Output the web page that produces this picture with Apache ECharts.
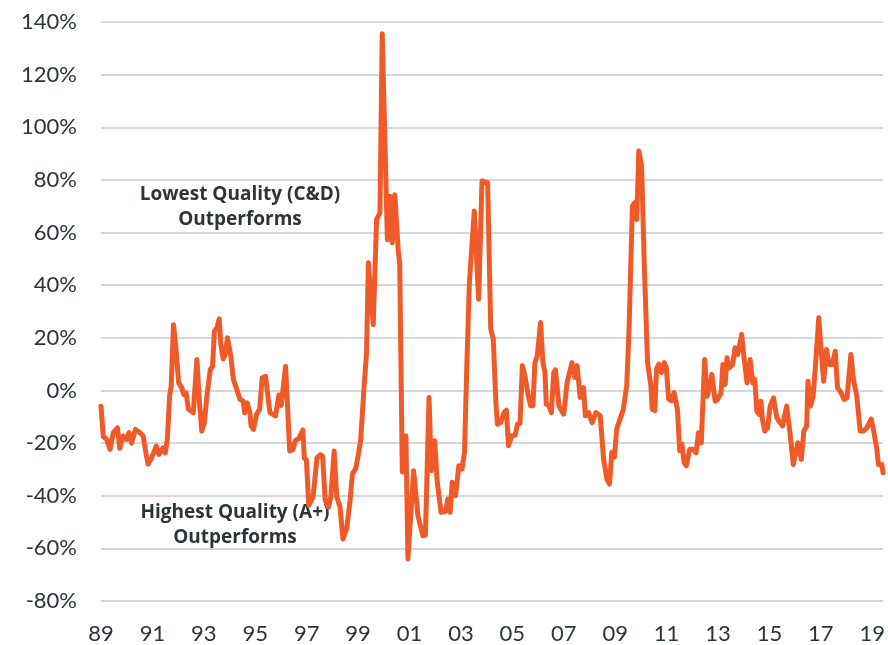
<!DOCTYPE html>
<html>
<head>
<meta charset="utf-8">
<script src="https://cdn.jsdelivr.net/npm/echarts@6/dist/echarts.min.js"></script>
<style>
html,body{margin:0;padding:0;background:#fff;}
#chart{width:888px;height:645px;}
</style>
</head>
<body>
<div id="chart"></div>
<script>
// Decimal year of each reading
const years = [
1989.00,1989.09,1989.22,1989.35,1989.48,1989.64,1989.73,1989.86,1989.99,1990.09,
1990.19,1990.34,1990.51,1990.64,1990.77,1990.83,1990.95,1991.05,1991.15,1991.25,
1991.41,1991.50,1991.58,1991.67,1991.73,1991.82,1991.92,1992.02,1992.14,1992.22,
1992.31,1992.40,1992.50,1992.59,1992.73,1992.83,1992.92,1993.02,1993.12,1993.25,
1993.34,1993.41,1993.51,1993.60,1993.66,1993.75,1993.83,1993.92,1994.05,1994.15,
1994.28,1994.41,1994.53,1994.59,1994.69,1994.79,1994.84,1994.93,1995.05,1995.17,
1995.27,1995.40,1995.57,1995.79,1995.92,1996.01,1996.18,1996.34,1996.47,1996.56,
1996.69,1996.85,1996.91,1996.99,1997.08,1997.25,1997.40,1997.53,1997.62,1997.72,
1997.85,1997.94,1998.07,1998.17,1998.30,1998.41,1998.56,1998.69,1998.78,1998.91,
1999.01,1999.10,1999.23,1999.33,1999.40,1999.59,1999.72,1999.85,1999.94,2000.14,
2000.24,2000.33,2000.43,2000.56,2000.62,2000.72,2000.86,2000.94,2001.16,2001.33,
2001.52,2001.62,2001.76,2001.85,2001.98,2002.08,2002.23,2002.40,2002.49,2002.58,
2002.66,2002.79,2002.92,2003.04,2003.14,2003.23,2003.33,2003.52,2003.69,2003.82,
2004.04,2004.16,2004.26,2004.36,2004.42,2004.55,2004.68,2004.77,2004.85,2004.98,
2005.11,2005.20,2005.30,2005.39,2005.49,2005.62,2005.71,2005.80,2005.88,2005.97,
2006.10,2006.19,2006.27,2006.32,2006.42,2006.52,2006.61,2006.68,2006.81,2007.00,
2007.13,2007.32,2007.43,2007.52,2007.64,2007.77,2007.84,2007.97,2008.10,2008.25,
2008.42,2008.55,2008.68,2008.78,2008.87,2008.97,2009.06,2009.19,2009.32,2009.45,
2009.54,2009.67,2009.77,2009.84,2009.92,2010.03,2010.13,2010.26,2010.39,2010.44,
2010.54,2010.61,2010.70,2010.80,2010.91,2010.99,2011.08,2011.19,2011.29,2011.42,
2011.51,2011.60,2011.68,2011.77,2011.90,2012.03,2012.15,2012.24,2012.35,2012.48,
2012.58,2012.67,2012.76,2012.89,2012.99,2013.12,2013.19,2013.28,2013.35,2013.44,
2013.57,2013.66,2013.77,2013.92,2014.02,2014.13,2014.25,2014.35,2014.43,2014.51,
2014.60,2014.67,2014.73,2014.82,2014.93,2015.03,2015.16,2015.29,2015.37,2015.51,
2015.67,2015.80,2015.93,2016.02,2016.11,2016.24,2016.34,2016.45,2016.50,2016.60,
2016.70,2016.79,2016.92,2017.01,2017.11,2017.22,2017.31,2017.44,2017.56,2017.65,
2017.79,2017.91,2018.02,2018.17,2018.27,2018.40,2018.53,2018.66,2018.79,2018.96,
2019.07,2019.18,2019.24,2019.37,2019.42
];
// Quality spread, percent
const spread = [
-6,-17.5,-18.6,-22.4,-16,-14.2,-22,-17.3,-18.6,-16,
-20,-14.8,-16,-17.3,-25,-28,-26,-23.7,-21.1,-24.3,
-21.8,-23.7,-18.6,-2.1,1.6,25,15.6,2.9,1,-1.5,
-0.9,-7.2,-7.8,-8.5,11.8,-4.7,-15.4,-12.3,-2.1,8,
9.2,22.5,23.8,27.2,17.5,12,13.7,20,13,4.2,
0.4,-3.4,-4,-8.5,-4.7,-8.5,-13.5,-14.8,-9.1,-7.2,
4.8,5.4,-8.4,-9.7,-1.7,-5.7,9.2,-23,-22.4,-19,
-18.4,-15,-25.7,-26.4,-43.7,-40.4,-25.7,-24.4,-25,-41.7,
-44.4,-40.4,-23,-40.4,-44.4,-56.4,-52.4,-41.7,-31.7,-29.7,
-24.4,-19,0.9,14.3,48.5,25,64.9,67.5,135.5,57.3,
73.8,56.1,74.4,53.5,48,-31,-17.2,-64,-30.5,-47.6,
-55.2,-55,-2.7,-30.5,-19.1,-34.9,-46.3,-46,-41.3,-46.3,
-34.9,-40,-28.6,-29.9,-23.5,9.4,41,68.2,34.7,79.6,
79,23.3,19.5,-4.6,-12.8,-12.2,-8.4,-7.5,-21,-17.2,
-17,-12.8,-12.5,9.4,5.6,-2,-5.8,-5.8,10.6,13.2,
25.8,10.6,6.8,-5.2,-5.8,-8.4,6.8,7.8,-5.8,-9,
3,10.6,4.9,9.4,-2.7,1.1,-9.6,-8.4,-12.2,-8.4,
-9.6,-26.1,-33.7,-35.6,-23.5,-25.4,-14.7,-10.9,-7.1,1.8,
23.3,70.1,71.4,65,91,85.3,48.6,10.6,1.8,-7.1,
-7.7,8.1,10,6.8,10.6,8.7,-3.3,-3.9,-0.8,-7.1,
-22.9,-20.4,-27.3,-28.6,-22.3,-22.3,-23.7,-16.1,-19.9,11.8,
-2.2,1,6.1,-4.1,-3.4,-0.9,9.9,2.3,12.4,8.6,
9.9,16.2,13.7,21.3,11.8,2.9,11.8,2.9,4.2,-7.8,
-9.1,-4.1,-11,-15.4,-14.2,-5.9,-2.8,-10.4,-11.6,-13.5,
-5.9,-16.1,-28.1,-23.7,-19.9,-26.2,-15.4,-13.5,3.5,-5.9,
-2.2,9.2,27.6,15.6,3.5,15.6,9.9,9.9,14.9,1,
-0.9,-3.4,-2.8,13.7,4.2,-2.2,-15.4,-15.4,-14.2,-10.8,
-16.1,-22.4,-28.1,-28.1,-31.3
];
const startYear = 1989;
const endYear = 2019.42;
const yMin = -80, yMax = 140, yStep = 20;
const annotations = [
  ['Lowest Quality (C&D)', 'Outperforms'],
  ['Highest Quality (A+)', 'Outperforms']
];

const textColor = '#2b3438';
const fontFam = 'Lato, "Open Sans", sans-serif';
const noteFont = 'bold 19px "Open Sans", sans-serif';
const seriesData = years.map((y, i) => [y - startYear, spread[i]]);

const chart = echarts.init(document.getElementById('chart'), null, {renderer: 'canvas'});
chart.setOption({
  animation: false,
  backgroundColor: '#ffffff',
  grid: {left: 101, right: 0, top: 22, bottom: 43},
  xAxis: {
    type: 'value',
    min: 0,
    max: endYear - startYear,
    interval: 2,
    axisLine: {show: false},
    axisTick: {show: false},
    splitLine: {show: false},
    axisLabel: {
      color: textColor,
      fontSize: 22,
      fontFamily: fontFam,
      margin: 22,
      showMaxLabel: false,
      formatter: function (v) {
        const r = Math.round(v);
        if (Math.abs(v - r) > 1e-6 || r % 2 !== 0) return '';
        const yy = (startYear + r) % 100;
        return (yy < 10 ? '0' : '') + yy;
      }
    }
  },
  yAxis: {
    type: 'value',
    min: yMin,
    max: yMax,
    interval: yStep,
    axisLine: {show: false},
    axisTick: {show: false},
    splitLine: {lineStyle: {color: '#c5cbcf', width: 1.5}},
    axisLabel: {
      color: textColor,
      fontSize: 22,
      fontFamily: fontFam,
      margin: 24,
      formatter: '{value}%'
    }
  },
  graphic: [
    {type: 'text', x: 240, y: 182, style: {text: annotations[0].join('\n'), fill: textColor, font: noteFont, textAlign: 'center', lineHeight: 25}},
    {type: 'text', x: 235, y: 500, style: {text: annotations[1].join('\n'), fill: textColor, font: noteFont, textAlign: 'center', lineHeight: 25}}
  ],
  series: [{
    type: 'line',
    data: seriesData,
    showSymbol: false,
    symbol: 'none',
    lineStyle: {color: '#f05a28', width: 5, join: 'round', cap: 'round'},
    clip: true
  }]
});
</script>
</body>
</html>
